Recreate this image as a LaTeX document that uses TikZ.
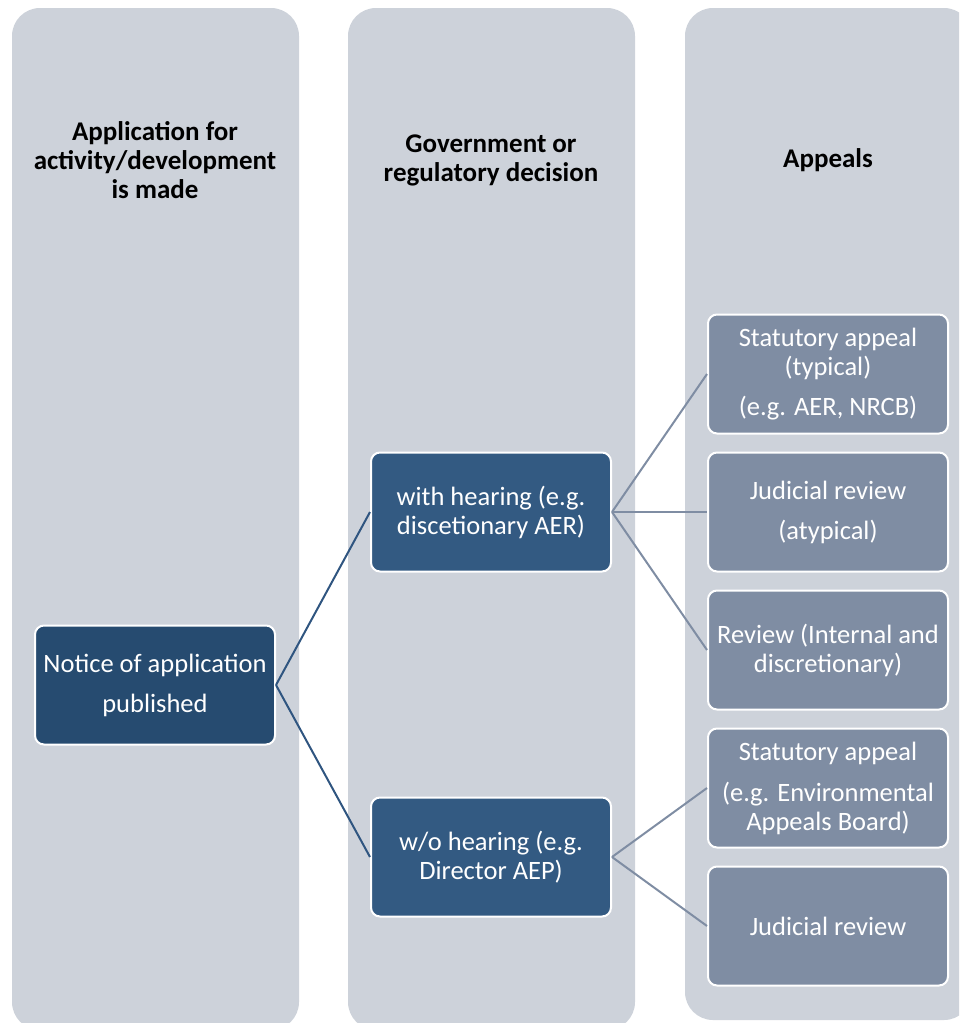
\documentclass[tikz,border=0pt]{standalone}
\usepackage{fontspec}
\setmainfont{Carlito}
\definecolor{colbg}{HTML}{CDD2DA}
\definecolor{darkA}{HTML}{264B70}
\definecolor{darkB}{HTML}{335A82}
\definecolor{greyb}{HTML}{7F8DA3}
\definecolor{lineA}{HTML}{2F5580}
\tikzset{
  colbox/.style={fill=colbg, rounded corners=28pt},
  header/.style={font=\fontsize{27}{29}\selectfont\bfseries, text=black, align=center},
  boxbase/.style={draw=white, line width=2pt, rounded corners=9pt, text=white, align=center,
    minimum width=240pt, minimum height=119pt, inner sep=0pt, font=\fontsize{26.5}{29}\selectfont},
  darkbox/.style={boxbase, fill=darkA},
  midbox/.style={boxbase, fill=darkB},
  greybox/.style={boxbase, fill=greyb},
  linkA/.style={draw=lineA, line width=2pt},
  linkB/.style={draw=greyb, line width=2pt},
}
\begin{document}
\begin{tikzpicture}[x=1pt,y=-1pt]
\useasboundingbox (0,0) rectangle (959,1023);
\clip (0,0) rectangle (959,1023);
\fill[colbox] (12,8) rectangle (299,1030);
\fill[colbox] (348,8) rectangle (635,1030);
\fill[colbox] (685,8) rectangle (972,1020);
\node[header] (h1) at (155,160) {Application for\\activity/development\\is made};
\node[header] (h2) at (491,160) {Government or\\regulatory decision};
\node[header] (h3) at (828,160) {Appeals};
\node[darkbox] (notice) at (155,685) {Notice of application\\[11pt]published};
\node[midbox] (with) at (491,512) {with hearing (e.g.\\discetionary AER)};
\node[midbox] (wo) at (491,857) {w/o hearing (e.g.\\Director AEP)};
\node[greybox] (a1) at (828,374) {Statutory appeal\\(typical)\\[11pt](e.g. AER, NRCB)};
\node[greybox] (a2) at (828,512) {Judicial review\\[11pt](atypical)};
\node[greybox] (a3) at (828,650) {Review (Internal and\\discretionary)};
\node[greybox] (a4) at (828,788) {Statutory appeal\\[12pt](e.g. Environmental\\Appeals Board)};
\node[greybox] (a5) at (828,926) {Judicial review};
\draw[linkA] (notice.east) -- (with.west);
\draw[linkA] (notice.east) -- (wo.west);
\foreach \t in {a1,a2,a3} \draw[linkB] (with.east) -- (\t.west);
\foreach \t in {a4,a5} \draw[linkB] (wo.east) -- (\t.west);
\end{tikzpicture}
\end{document}
